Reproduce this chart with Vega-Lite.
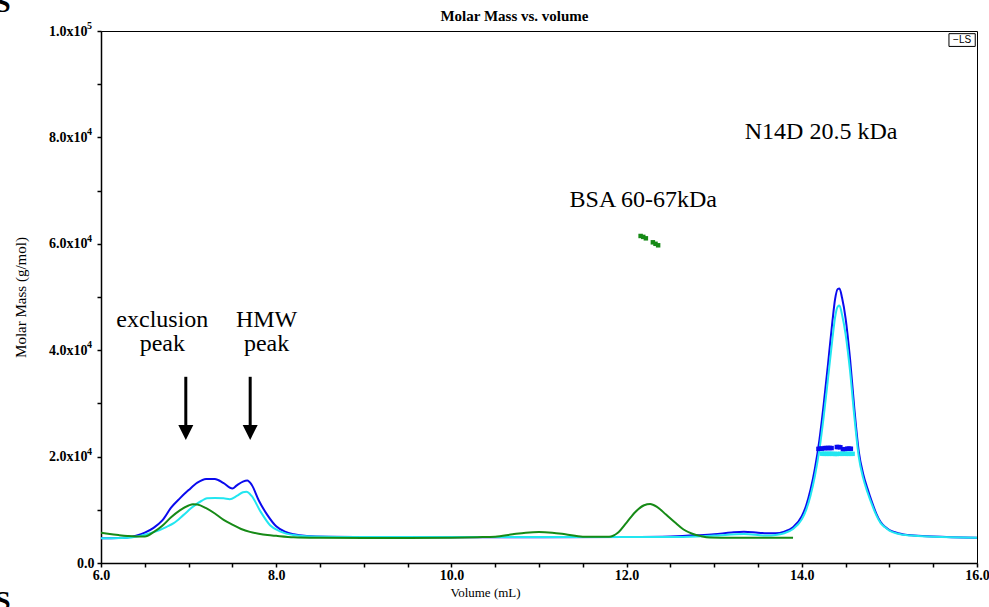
{
  "$schema": "https://vega.github.io/schema/vega-lite/v6.json",
  "width": 876,
  "height": 532,
  "autosize": {"type": "none"},
  "padding": {"left": 101, "top": 31, "right": 12, "bottom": 44},
  "background": "white",
  "config": {"view": {"stroke": "#000", "strokeWidth": 1}},
  "datasets": {
    "ls": [
      {"series": "blue", "volume": 6.0, "mass": 4650}, {"series": "blue", "volume": 6.2, "mass": 4700}, {"series": "blue", "volume": 6.3, "mass": 4800}, {"series": "blue", "volume": 6.4, "mass": 5150}, {"series": "blue", "volume": 6.5, "mass": 5700}, {"series": "blue", "volume": 6.6, "mass": 6600}, {"series": "blue", "volume": 6.7, "mass": 8000}, {"series": "blue", "volume": 6.8, "mass": 10400}, {"series": "blue", "volume": 6.9, "mass": 12150}, {"series": "blue", "volume": 7.0, "mass": 13700}, {"series": "blue", "volume": 7.1, "mass": 15100}, {"series": "blue", "volume": 7.2, "mass": 15800}, {"series": "blue", "volume": 7.3, "mass": 15800}, {"series": "blue", "volume": 7.4, "mass": 15000}, {"series": "blue", "volume": 7.5, "mass": 14000}, {"series": "blue", "volume": 7.55, "mass": 14600}, {"series": "blue", "volume": 7.62, "mass": 15300}, {"series": "blue", "volume": 7.67, "mass": 15500}, {"series": "blue", "volume": 7.72, "mass": 14700}, {"series": "blue", "volume": 7.8, "mass": 11800}, {"series": "blue", "volume": 7.9, "mass": 9000}, {"series": "blue", "volume": 8.0, "mass": 6900}, {"series": "blue", "volume": 8.1, "mass": 5900}, {"series": "blue", "volume": 8.2, "mass": 5400}, {"series": "blue", "volume": 8.35, "mass": 5080}, {"series": "blue", "volume": 8.6, "mass": 4950}, {"series": "blue", "volume": 9.0, "mass": 4900}, {"series": "blue", "volume": 10.0, "mass": 4850}, {"series": "blue", "volume": 11.0, "mass": 4850}, {"series": "blue", "volume": 12.0, "mass": 4900}, {"series": "blue", "volume": 12.5, "mass": 5000}, {"series": "blue", "volume": 12.8, "mass": 5200}, {"series": "blue", "volume": 13.0, "mass": 5400}, {"series": "blue", "volume": 13.2, "mass": 5750}, {"series": "blue", "volume": 13.34, "mass": 5880}, {"series": "blue", "volume": 13.5, "mass": 5700}, {"series": "blue", "volume": 13.6, "mass": 5600}, {"series": "blue", "volume": 13.7, "mass": 5600}, {"series": "blue", "volume": 13.8, "mass": 5900}, {"series": "blue", "volume": 13.9, "mass": 6700}, {"series": "blue", "volume": 14.0, "mass": 8800}, {"series": "blue", "volume": 14.05, "mass": 10800}, {"series": "blue", "volume": 14.1, "mass": 13800}, {"series": "blue", "volume": 14.15, "mass": 17800}, {"series": "blue", "volume": 14.2, "mass": 23000}, {"series": "blue", "volume": 14.25, "mass": 29800}, {"series": "blue", "volume": 14.3, "mass": 37500}, {"series": "blue", "volume": 14.35, "mass": 45500}, {"series": "blue", "volume": 14.38, "mass": 49600}, {"series": "blue", "volume": 14.41, "mass": 51500}, {"series": "blue", "volume": 14.43, "mass": 51600}, {"series": "blue", "volume": 14.46, "mass": 49800}, {"series": "blue", "volume": 14.5, "mass": 46000}, {"series": "blue", "volume": 14.55, "mass": 38500}, {"series": "blue", "volume": 14.6, "mass": 29000}, {"series": "blue", "volume": 14.65, "mass": 21000}, {"series": "blue", "volume": 14.7, "mass": 16800}, {"series": "blue", "volume": 14.75, "mass": 14000}, {"series": "blue", "volume": 14.8, "mass": 11500}, {"series": "blue", "volume": 14.85, "mass": 9300}, {"series": "blue", "volume": 14.9, "mass": 7700}, {"series": "blue", "volume": 14.95, "mass": 6800}, {"series": "blue", "volume": 15.0, "mass": 6200}, {"series": "blue", "volume": 15.1, "mass": 5600}, {"series": "blue", "volume": 15.25, "mass": 5200}, {"series": "blue", "volume": 15.5, "mass": 5000}, {"series": "blue", "volume": 16.0, "mass": 4750},
      {"series": "cyan", "volume": 6.0, "mass": 4650}, {"series": "cyan", "volume": 6.3, "mass": 4750}, {"series": "cyan", "volume": 6.5, "mass": 5300}, {"series": "cyan", "volume": 6.6, "mass": 5800}, {"series": "cyan", "volume": 6.67, "mass": 6200}, {"series": "cyan", "volume": 6.75, "mass": 6800}, {"series": "cyan", "volume": 6.83, "mass": 7500}, {"series": "cyan", "volume": 6.94, "mass": 9000}, {"series": "cyan", "volume": 7.05, "mass": 10600}, {"series": "cyan", "volume": 7.15, "mass": 11700}, {"series": "cyan", "volume": 7.21, "mass": 12150}, {"series": "cyan", "volume": 7.3, "mass": 12200}, {"series": "cyan", "volume": 7.4, "mass": 12150}, {"series": "cyan", "volume": 7.47, "mass": 12000}, {"series": "cyan", "volume": 7.55, "mass": 12600}, {"series": "cyan", "volume": 7.62, "mass": 13300}, {"series": "cyan", "volume": 7.66, "mass": 13400}, {"series": "cyan", "volume": 7.72, "mass": 12600}, {"series": "cyan", "volume": 7.82, "mass": 9700}, {"series": "cyan", "volume": 7.93, "mass": 7100}, {"series": "cyan", "volume": 8.05, "mass": 5900}, {"series": "cyan", "volume": 8.2, "mass": 5250}, {"series": "cyan", "volume": 8.4, "mass": 5000}, {"series": "cyan", "volume": 9.0, "mass": 4900}, {"series": "cyan", "volume": 12.5, "mass": 4900}, {"series": "cyan", "volume": 12.8, "mass": 5000}, {"series": "cyan", "volume": 13.0, "mass": 5150}, {"series": "cyan", "volume": 13.34, "mass": 5450}, {"series": "cyan", "volume": 13.6, "mass": 5150}, {"series": "cyan", "volume": 13.7, "mass": 5250}, {"series": "cyan", "volume": 13.8, "mass": 5600}, {"series": "cyan", "volume": 13.9, "mass": 6400}, {"series": "cyan", "volume": 14.0, "mass": 8200}, {"series": "cyan", "volume": 14.05, "mass": 10000}, {"series": "cyan", "volume": 14.1, "mass": 12700}, {"series": "cyan", "volume": 14.15, "mass": 16400}, {"series": "cyan", "volume": 14.2, "mass": 21200}, {"series": "cyan", "volume": 14.25, "mass": 27500}, {"series": "cyan", "volume": 14.3, "mass": 34800}, {"series": "cyan", "volume": 14.35, "mass": 42200}, {"series": "cyan", "volume": 14.38, "mass": 46200}, {"series": "cyan", "volume": 14.41, "mass": 48200}, {"series": "cyan", "volume": 14.43, "mass": 48400}, {"series": "cyan", "volume": 14.46, "mass": 46600}, {"series": "cyan", "volume": 14.5, "mass": 43000}, {"series": "cyan", "volume": 14.55, "mass": 36200}, {"series": "cyan", "volume": 14.6, "mass": 27500}, {"series": "cyan", "volume": 14.65, "mass": 20000}, {"series": "cyan", "volume": 14.7, "mass": 16000}, {"series": "cyan", "volume": 14.75, "mass": 13300}, {"series": "cyan", "volume": 14.8, "mass": 11000}, {"series": "cyan", "volume": 14.85, "mass": 9000}, {"series": "cyan", "volume": 14.9, "mass": 7500}, {"series": "cyan", "volume": 14.95, "mass": 6700}, {"series": "cyan", "volume": 15.0, "mass": 6100}, {"series": "cyan", "volume": 15.1, "mass": 5500}, {"series": "cyan", "volume": 15.25, "mass": 5150}, {"series": "cyan", "volume": 15.5, "mass": 4950}, {"series": "cyan", "volume": 16.0, "mass": 4750},
      {"series": "green", "volume": 6.0, "mass": 5700}, {"series": "green", "volume": 6.1, "mass": 5450}, {"series": "green", "volume": 6.2, "mass": 5250}, {"series": "green", "volume": 6.3, "mass": 5080}, {"series": "green", "volume": 6.4, "mass": 4980}, {"series": "green", "volume": 6.5, "mass": 5000}, {"series": "green", "volume": 6.6, "mass": 5800}, {"series": "green", "volume": 6.7, "mass": 7000}, {"series": "green", "volume": 6.8, "mass": 8600}, {"series": "green", "volume": 6.9, "mass": 9900}, {"series": "green", "volume": 7.0, "mass": 10800}, {"series": "green", "volume": 7.05, "mass": 11050}, {"series": "green", "volume": 7.1, "mass": 11000}, {"series": "green", "volume": 7.2, "mass": 10300}, {"series": "green", "volume": 7.3, "mass": 9300}, {"series": "green", "volume": 7.4, "mass": 8100}, {"series": "green", "volume": 7.5, "mass": 7200}, {"series": "green", "volume": 7.6, "mass": 6400}, {"series": "green", "volume": 7.7, "mass": 5850}, {"series": "green", "volume": 7.8, "mass": 5500}, {"series": "green", "volume": 7.9, "mass": 5250}, {"series": "green", "volume": 8.0, "mass": 5100}, {"series": "green", "volume": 8.2, "mass": 4850}, {"series": "green", "volume": 8.5, "mass": 4750}, {"series": "green", "volume": 9.0, "mass": 4700}, {"series": "green", "volume": 9.5, "mass": 4700}, {"series": "green", "volume": 10.0, "mass": 4750}, {"series": "green", "volume": 10.3, "mass": 4850}, {"series": "green", "volume": 10.5, "mass": 4950}, {"series": "green", "volume": 10.7, "mass": 5400}, {"series": "green", "volume": 10.85, "mass": 5700}, {"series": "green", "volume": 11.0, "mass": 5830}, {"series": "green", "volume": 11.15, "mass": 5700}, {"series": "green", "volume": 11.3, "mass": 5400}, {"series": "green", "volume": 11.5, "mass": 4950}, {"series": "green", "volume": 11.8, "mass": 4950}, {"series": "green", "volume": 11.9, "mass": 5700}, {"series": "green", "volume": 12.0, "mass": 7600}, {"series": "green", "volume": 12.1, "mass": 9600}, {"series": "green", "volume": 12.2, "mass": 10850}, {"series": "green", "volume": 12.27, "mass": 11080}, {"series": "green", "volume": 12.35, "mass": 10500}, {"series": "green", "volume": 12.45, "mass": 9100}, {"series": "green", "volume": 12.55, "mass": 7650}, {"series": "green", "volume": 12.65, "mass": 6300}, {"series": "green", "volume": 12.75, "mass": 5500}, {"series": "green", "volume": 12.85, "mass": 5050}, {"series": "green", "volume": 12.95, "mass": 4800}, {"series": "green", "volume": 13.2, "mass": 4750}, {"series": "green", "volume": 13.9, "mass": 4750}
    ],
    "mm": [
      {"series": "green", "volume": 12.16, "mass": 61470}, {"series": "green", "volume": 12.19, "mass": 61300}, {"series": "green", "volume": 12.22, "mass": 61030}, {"series": "green", "volume": 12.3, "mass": 60280}, {"series": "green", "volume": 12.33, "mass": 60000}, {"series": "green", "volume": 12.36, "mass": 59720},
      {"series": "blue", "volume": 14.19, "mass": 21450}, {"series": "blue", "volume": 14.21, "mass": 21500}, {"series": "blue", "volume": 14.23, "mass": 21500}, {"series": "blue", "volume": 14.26, "mass": 21600}, {"series": "blue", "volume": 14.28, "mass": 21600}, {"series": "blue", "volume": 14.3, "mass": 21620}, {"series": "blue", "volume": 14.32, "mass": 21620}, {"series": "blue", "volume": 14.34, "mass": 21600}, {"series": "blue", "volume": 14.4, "mass": 21800}, {"series": "blue", "volume": 14.42, "mass": 21800}, {"series": "blue", "volume": 14.44, "mass": 21750}, {"series": "blue", "volume": 14.47, "mass": 21370}, {"series": "blue", "volume": 14.49, "mass": 21400}, {"series": "blue", "volume": 14.52, "mass": 21490}, {"series": "blue", "volume": 14.54, "mass": 21490}, {"series": "blue", "volume": 14.56, "mass": 21480},
      {"series": "cyan", "volume": 14.23, "mass": 20550}, {"series": "cyan", "volume": 14.25, "mass": 20520}, {"series": "cyan", "volume": 14.27, "mass": 20520}, {"series": "cyan", "volume": 14.29, "mass": 20520}, {"series": "cyan", "volume": 14.31, "mass": 20520}, {"series": "cyan", "volume": 14.33, "mass": 20520}, {"series": "cyan", "volume": 14.35, "mass": 20520}, {"series": "cyan", "volume": 14.38, "mass": 20500}, {"series": "cyan", "volume": 14.4, "mass": 20500}, {"series": "cyan", "volume": 14.44, "mass": 20520}, {"series": "cyan", "volume": 14.46, "mass": 20520}, {"series": "cyan", "volume": 14.5, "mass": 20520}, {"series": "cyan", "volume": 14.52, "mass": 20520}, {"series": "cyan", "volume": 14.54, "mass": 20520}, {"series": "cyan", "volume": 14.56, "mass": 20520}, {"series": "cyan", "volume": 14.58, "mass": 20520}
    ],
    "notes": [
      {"label": "N14D 20.5 kDa", "volume": 14.22, "mass": 81000},
      {"label": "BSA 60-67kDa", "volume": 12.19, "mass": 68200},
      {"label": "exclusion", "volume": 6.7, "mass": 45700},
      {"label": "peak", "volume": 6.7, "mass": 41200},
      {"label": "HMW", "volume": 7.89, "mass": 45700},
      {"label": "peak", "volume": 7.89, "mass": 41200}
    ],
    "heading": [
      {"label": "Molar Mass vs. volume", "volume": 10.72, "mass": 102800}
    ],
    "exps": [
      {"label": "4", "volume": 6, "mass": 20000},
      {"label": "4", "volume": 6, "mass": 40000},
      {"label": "4", "volume": 6, "mass": 60000},
      {"label": "4", "volume": 6, "mass": 80000},
      {"label": "5", "volume": 6, "mass": 100000}
    ],
    "arrows": [
      {"volume": 6.968, "top": 35000, "bottom": 25500, "tip": 24530},
      {"volume": 7.703, "top": 35000, "bottom": 25500, "tip": 24530}
    ],
    "corner": [
      {"label": "S", "volume": 4.88, "mass": 105000},
      {"label": "S", "volume": 4.88, "mass": -7300}
    ],
    "legendbox": [
      {"label": "−LS", "x1": 15.68, "x2": 15.98, "y1": 99500, "y2": 97100, "volume": 15.83, "mass": 98300}
    ]
  },
  "layer": [
    {
      "data": {"name": "ls"},
      "mark": {"type": "line", "strokeWidth": 2, "clip": true, "interpolate": "monotone"},
      "encoding": {
        "x": {"field": "volume", "type": "quantitative", "scale": {"domain": [6, 16], "nice": false, "zero": false},
          "axis": {"title": "Volume (mL)", "values": [6, 6.5, 7, 7.5, 8, 8.5, 9, 9.5, 10, 10.5, 11, 11.5, 12, 12.5, 13, 13.5, 14, 14.5, 15, 15.5, 16],
            "labelExpr": "datum.value % 2 === 0 ? format(datum.value, '.1f') : ''",
            "grid": false, "domainColor": "#000", "domainWidth": 1.5, "tickColor": "#000", "tickWidth": 1.5, "tickSize": 4,
            "labelFont": "Liberation Serif", "labelFontWeight": "bold", "labelFontSize": 14, "labelColor": "#000", "labelPadding": 1, "labelFlush": false, "labelOverlap": false,
            "titleFont": "Liberation Serif", "titleFontWeight": "normal", "titleFontSize": 13, "titleColor": "#000", "titlePadding": 4, "titleX": 384}},
        "y": {"field": "mass", "type": "quantitative", "scale": {"domain": [0, 100000], "nice": false},
          "axis": {"title": "Molar Mass (g/mol)", "values": [0, 5000, 10000, 15000, 20000, 25000, 30000, 35000, 40000, 45000, 50000, 55000, 60000, 65000, 70000, 75000, 80000, 85000, 90000, 95000, 100000],
            "labelExpr": "datum.value === 0 ? '0.0' : (datum.value % 20000 !== 0 ? '' : (datum.value === 100000 ? '1.0x10' : format(datum.value / 10000, '.1f') + 'x10'))",
            "grid": false, "domainColor": "#000", "domainWidth": 1.5, "tickColor": "#000", "tickWidth": 1.5, "tickSize": 4,
            "labelFont": "Liberation Serif", "labelFontWeight": "bold", "labelFontSize": 14, "labelColor": "#000",
            "labelPadding": {"condition": {"test": "datum.value === 0", "value": 3}, "value": 10},
            "labelFlush": false, "labelOverlap": false,
            "titleFont": "Liberation Serif", "titleFontWeight": "normal", "titleFontSize": 15, "titleColor": "#000", "titlePadding": 20}},
        "color": {"field": "series", "type": "nominal", "scale": {"domain": ["blue", "cyan", "green"], "range": ["#0a0aee", "#22e6f0", "#168a16"]}, "legend": null}
      }
    },
    {
      "data": {"name": "mm"},
      "mark": {"type": "square", "size": 20, "opacity": 1, "filled": true},
      "encoding": {
        "x": {"field": "volume", "type": "quantitative"},
        "y": {"field": "mass", "type": "quantitative"},
        "color": {"field": "series", "type": "nominal", "legend": null}
      }
    },
    {
      "data": {"name": "notes"},
      "mark": {"type": "text", "font": "Liberation Serif", "fontSize": 24, "color": "#000", "align": "center", "baseline": "middle"},
      "encoding": {
        "x": {"field": "volume", "type": "quantitative"},
        "y": {"field": "mass", "type": "quantitative"},
        "text": {"field": "label"}
      }
    },
    {
      "data": {"name": "heading"},
      "mark": {"type": "text", "font": "Liberation Serif", "fontSize": 15, "fontWeight": "bold", "color": "#000", "align": "center", "baseline": "middle"},
      "encoding": {
        "x": {"field": "volume", "type": "quantitative"},
        "y": {"field": "mass", "type": "quantitative"},
        "text": {"field": "label"}
      }
    },
    {
      "data": {"name": "exps"},
      "mark": {"type": "text", "font": "Liberation Serif", "fontSize": 10, "fontWeight": "bold", "color": "#000", "align": "left", "baseline": "middle", "dx": -14, "dy": -5},
      "encoding": {
        "x": {"field": "volume", "type": "quantitative"},
        "y": {"field": "mass", "type": "quantitative"},
        "text": {"field": "label"}
      }
    },
    {
      "data": {"name": "arrows"},
      "mark": {"type": "rule", "strokeWidth": 3, "color": "#000"},
      "encoding": {
        "x": {"field": "volume", "type": "quantitative"},
        "y": {"field": "top", "type": "quantitative"},
        "y2": {"field": "bottom"}
      }
    },
    {
      "data": {"name": "arrows"},
      "mark": {"type": "point", "shape": "M-1,-1L1,-1L0,1Z", "size": 225, "filled": true, "color": "#000", "opacity": 1},
      "encoding": {
        "x": {"field": "volume", "type": "quantitative"},
        "y": {"field": "tip", "type": "quantitative"}
      }
    },
    {
      "data": {"name": "corner"},
      "mark": {"type": "text", "font": "Liberation Serif", "fontSize": 28, "fontWeight": "bold", "color": "#000", "align": "center", "baseline": "middle"},
      "encoding": {
        "x": {"field": "volume", "type": "quantitative"},
        "y": {"field": "mass", "type": "quantitative"},
        "text": {"field": "label"}
      }
    },
    {
      "data": {"name": "legendbox"},
      "mark": {"type": "rect", "fill": "white", "stroke": "#000", "strokeWidth": 1},
      "encoding": {
        "x": {"field": "x1", "type": "quantitative"},
        "x2": {"field": "x2"},
        "y": {"field": "y1", "type": "quantitative"},
        "y2": {"field": "y2"}
      }
    },
    {
      "data": {"name": "legendbox"},
      "mark": {"type": "text", "font": "Liberation Sans", "fontSize": 10, "color": "#000", "align": "center", "baseline": "middle"},
      "encoding": {
        "x": {"field": "volume", "type": "quantitative"},
        "y": {"field": "mass", "type": "quantitative"},
        "text": {"field": "label"}
      }
    }
  ]
}
